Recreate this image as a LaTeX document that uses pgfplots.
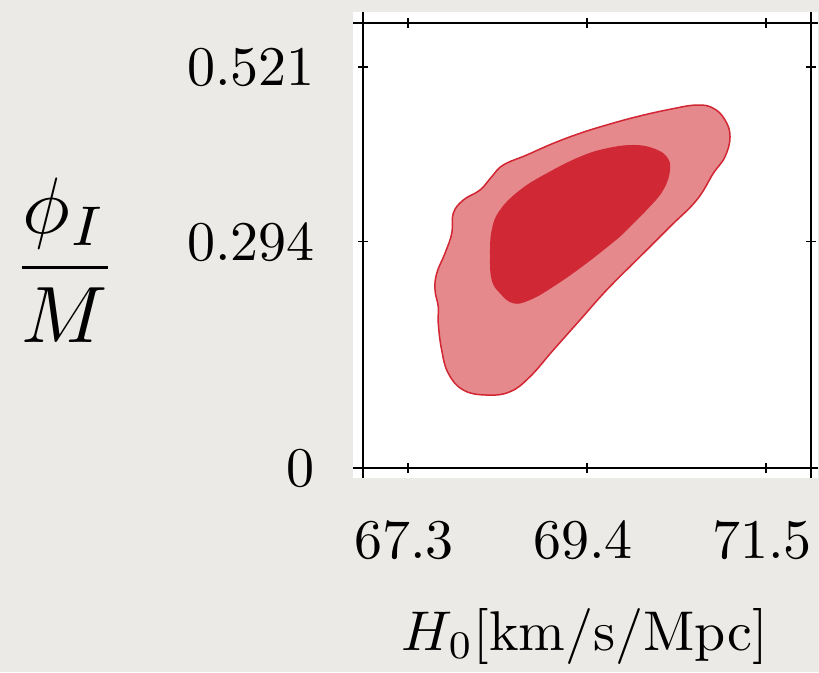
\RequirePackage{fix-cm}
\documentclass[border=0pt]{standalone}
\usepackage{graphicx}
\usepackage{pgfplots}
\pgfplotsset{compat=1.18}
\definecolor{bg}{RGB}{236,234,230}
\definecolor{outerc}{RGB}{229,137,141}
\definecolor{innerc}{RGB}{208,40,53}
\definecolor{edgec}{RGB}{210,38,50}
\newcommand{\bigsc}[1]{\scalebox{5.6}{#1}}
\begin{document}
\begin{tikzpicture}[x=1pt,y=1pt]
\fill[bg] (0,0) rectangle (819,672);
\useasboundingbox (0,0) rectangle (819,672);
\fill[white] (353,194) rectangle (818,660);
\begin{axis}[
  at={(363pt,204pt)}, anchor=south west,
  scale only axis, width=448pt, height=445pt,
  xmin=66.772, xmax=72.028, ymin=0, ymax=0.5782,
  axis line style={line width=1.4pt},
  xtick={67.3,69.4,71.5}, xticklabels={\bigsc{67.3},\bigsc{69.4},\bigsc{71.5}},
  ytick={0,0.294,0.521}, yticklabels={\bigsc{0},\bigsc{0.294},\bigsc{0.521}},
  tick align=center, major tick length=10pt,
  tick style={black, line width=1.2pt},
  tick label style={font=\normalsize, inner sep=0pt},
  xticklabel style={anchor=north, yshift=-47pt, xshift=-4pt},
  yticklabel style={anchor=east, xshift=-43pt},
  xlabel={\bigsc{$H_0[\mathrm{km/s/Mpc}]$}},
  xlabel style={font=\normalsize, inner sep=0pt, at={(axis description cs:0.4955,0)}, anchor=base, yshift=-182pt},
  ylabel={\scalebox{8}{$\displaystyle\frac{\phi_I}{M}$}},
  ylabel style={font=\normalsize, inner sep=0pt, rotate=-90, at={(axis description cs:-0.665,0.467)}, anchor=center},
]
\addplot[fill=outerc, draw=edgec, line width=1.5pt, smooth, tension=0.7] coordinates {
(69.983,0.2703) (69.631,0.2313) (69.318,0.1923) (69.005,0.1533) (68.731,0.1186)
(68.497,0.0991) (68.223,0.0948) (67.949,0.1013) (67.773,0.1230) (67.695,0.1533)
(67.655,0.1880) (67.655,0.2096) (67.617,0.2313) (67.637,0.2530) (67.734,0.2790)
(67.813,0.3049) (67.831,0.3309) (67.949,0.3482) (68.145,0.3612) (68.282,0.3785)
(68.418,0.3937) (68.693,0.4067) (69.005,0.4219) (69.318,0.4349) (69.631,0.4457)
(69.983,0.4564) (70.374,0.4661) (70.687,0.4716) (70.882,0.4674) (71.019,0.4522)
(71.078,0.4305) (71.019,0.4045) (70.882,0.3829) (70.687,0.3482) (70.374,0.3135)
(69.983,0.2703)
};
\addplot[fill=innerc, draw=none, smooth, tension=0.7] coordinates {
(69.787,0.3005) (69.396,0.2660) (69.005,0.2356) (68.731,0.2183) (68.535,0.2140)
(68.379,0.2270) (68.282,0.2443) (68.262,0.2745) (68.282,0.3092) (68.379,0.3352)
(68.614,0.3612) (68.927,0.3829) (69.318,0.4045) (69.631,0.4154) (69.943,0.4197)
(70.178,0.4154) (70.335,0.4045) (70.374,0.3872) (70.295,0.3612) (70.100,0.3352)
(69.787,0.3005)
};
\end{axis}
\draw[line width=1.4pt] (363,194) -- (363,660);
\draw[line width=1.4pt] (811,194) -- (811,660);
\draw[line width=1.4pt] (353,649) -- (818,649);
\draw[line width=1.4pt] (353,204) -- (818,204);
\end{tikzpicture}
\end{document}
